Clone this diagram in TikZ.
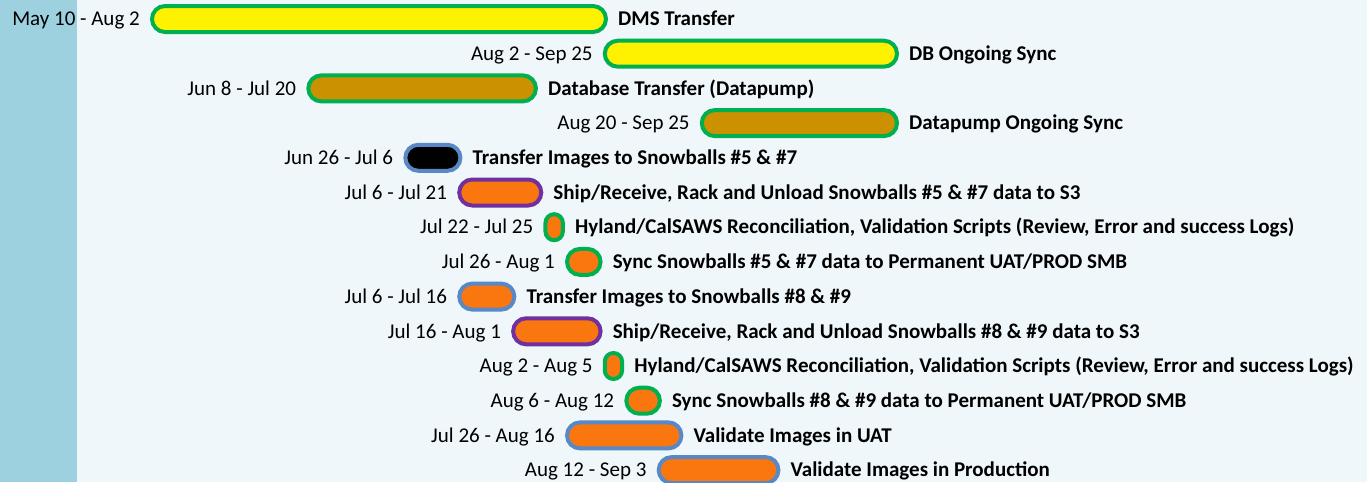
\documentclass[tikz,border=0pt]{standalone}
\usepackage{fontspec}
\setmainfont{Carlito}

\definecolor{stripBlue}{RGB}{158,209,223}
\definecolor{paperBlue}{RGB}{239,247,250}
\definecolor{barGreen}{RGB}{0,176,80}
\definecolor{barBlue}{RGB}{88,136,198}
\definecolor{barPurple}{RGB}{112,48,160}
\definecolor{barOrange}{RGB}{250,118,15}
\definecolor{barGold}{RGB}{204,145,0}

\tikzset{
    bar/.style={draw, line width=4pt, inner sep=0pt, minimum height=26pt},
    datelabel/.style={anchor=east, inner sep=0pt, text height=13.5pt, text depth=0pt,
        font=\fontsize{21}{25}\selectfont},
    tasklabel/.style={anchor=west, inner sep=0pt, text height=13.5pt, text depth=0pt,
        font=\fontsize{21}{25}\selectfont\bfseries}
}

\begin{document}
\begin{tikzpicture}[x=1pt, y=-1pt]
    % Background and left strip
    \fill[paperBlue] (0,0) rectangle (1367,482);
    \fill[stripBlue] (0,0) rectangle (77,482);
    \useasboundingbox (0,0) rectangle (1367,482);

    % Bars (days counted from May 10)
    \foreach \row/\s/\e/\fc/\bc/\dates/\task in {
        1/0/84/yellow/barGreen/{May 10 - Aug 2}/{DMS Transfer},
        2/84/138/yellow/barGreen/{Aug 2 - Sep 25}/{DB Ongoing Sync},
        3/29/71/barGold/barGreen/{Jun 8 - Jul 20}/{Database Transfer (Datapump)},
        4/102/138/barGold/barGreen/{Aug 20 - Sep 25}/{Datapump Ongoing Sync},
        5/47/57/black/barBlue/{Jun 26 - Jul 6}/{Transfer Images to Snowballs \#5 \& \#7},
        6/57/72/barOrange/barPurple/{Jul 6 - Jul 21}/{Ship/Receive, Rack and Unload Snowballs \#5 \& \#7 data to S3},
        7/73/76/barOrange/barGreen/{Jul 22 - Jul 25}/{Hyland/CalSAWS Reconciliation, Validation Scripts (Review, Error and success Logs)},
        8/77/83/barOrange/barGreen/{Jul 26 - Aug 1}/{Sync Snowballs \#5 \& \#7 data to Permanent UAT/PROD SMB},
        9/57/67/barOrange/barBlue/{Jul 6 - Jul 16}/{Transfer Images to Snowballs \#8 \& \#9},
        10/67/83/barOrange/barPurple/{Jul 16 - Aug 1}/{Ship/Receive, Rack and Unload Snowballs \#8 \& \#9 data to S3},
        11/84/87/barOrange/barGreen/{Aug 2 - Aug 5}/{Hyland/CalSAWS Reconciliation, Validation Scripts (Review, Error and success Logs)},
        12/88/94/barOrange/barGreen/{Aug 6 - Aug 12}/{Sync Snowballs \#8 \& \#9 data to Permanent UAT/PROD SMB},
        13/77/98/barOrange/barBlue/{Jul 26 - Aug 16}/{Validate Images in UAT},
        14/94/116/barOrange/barBlue/{Aug 12 - Sep 3}/{Validate Images in Production}}
    {
        \pgfmathsetmacro\xl{150+5.39*\s+2}
        \pgfmathsetmacro\xr{150+5.39*\e+5.2-2}
        \pgfmathsetmacro\barw{\xr-\xl}
        \pgfmathsetmacro\xc{(\xl+\xr)/2}
        \pgfmathsetmacro\yc{19+34.7*(\row-1)}
        \pgfmathsetmacro\barr{min(13,\barw/2)}
        \node[bar, fill=\fc, draw=\bc, minimum width=\barw pt, rounded corners=\barr pt]
            (bar\row) at (\xc,\yc) {};
        \node[datelabel] (date\row) at ([xshift=-10pt]bar\row.west) {\dates};
        \node[tasklabel] (task\row) at ([xshift=10pt]bar\row.east) {\task};
    }
\end{tikzpicture}
\end{document}
